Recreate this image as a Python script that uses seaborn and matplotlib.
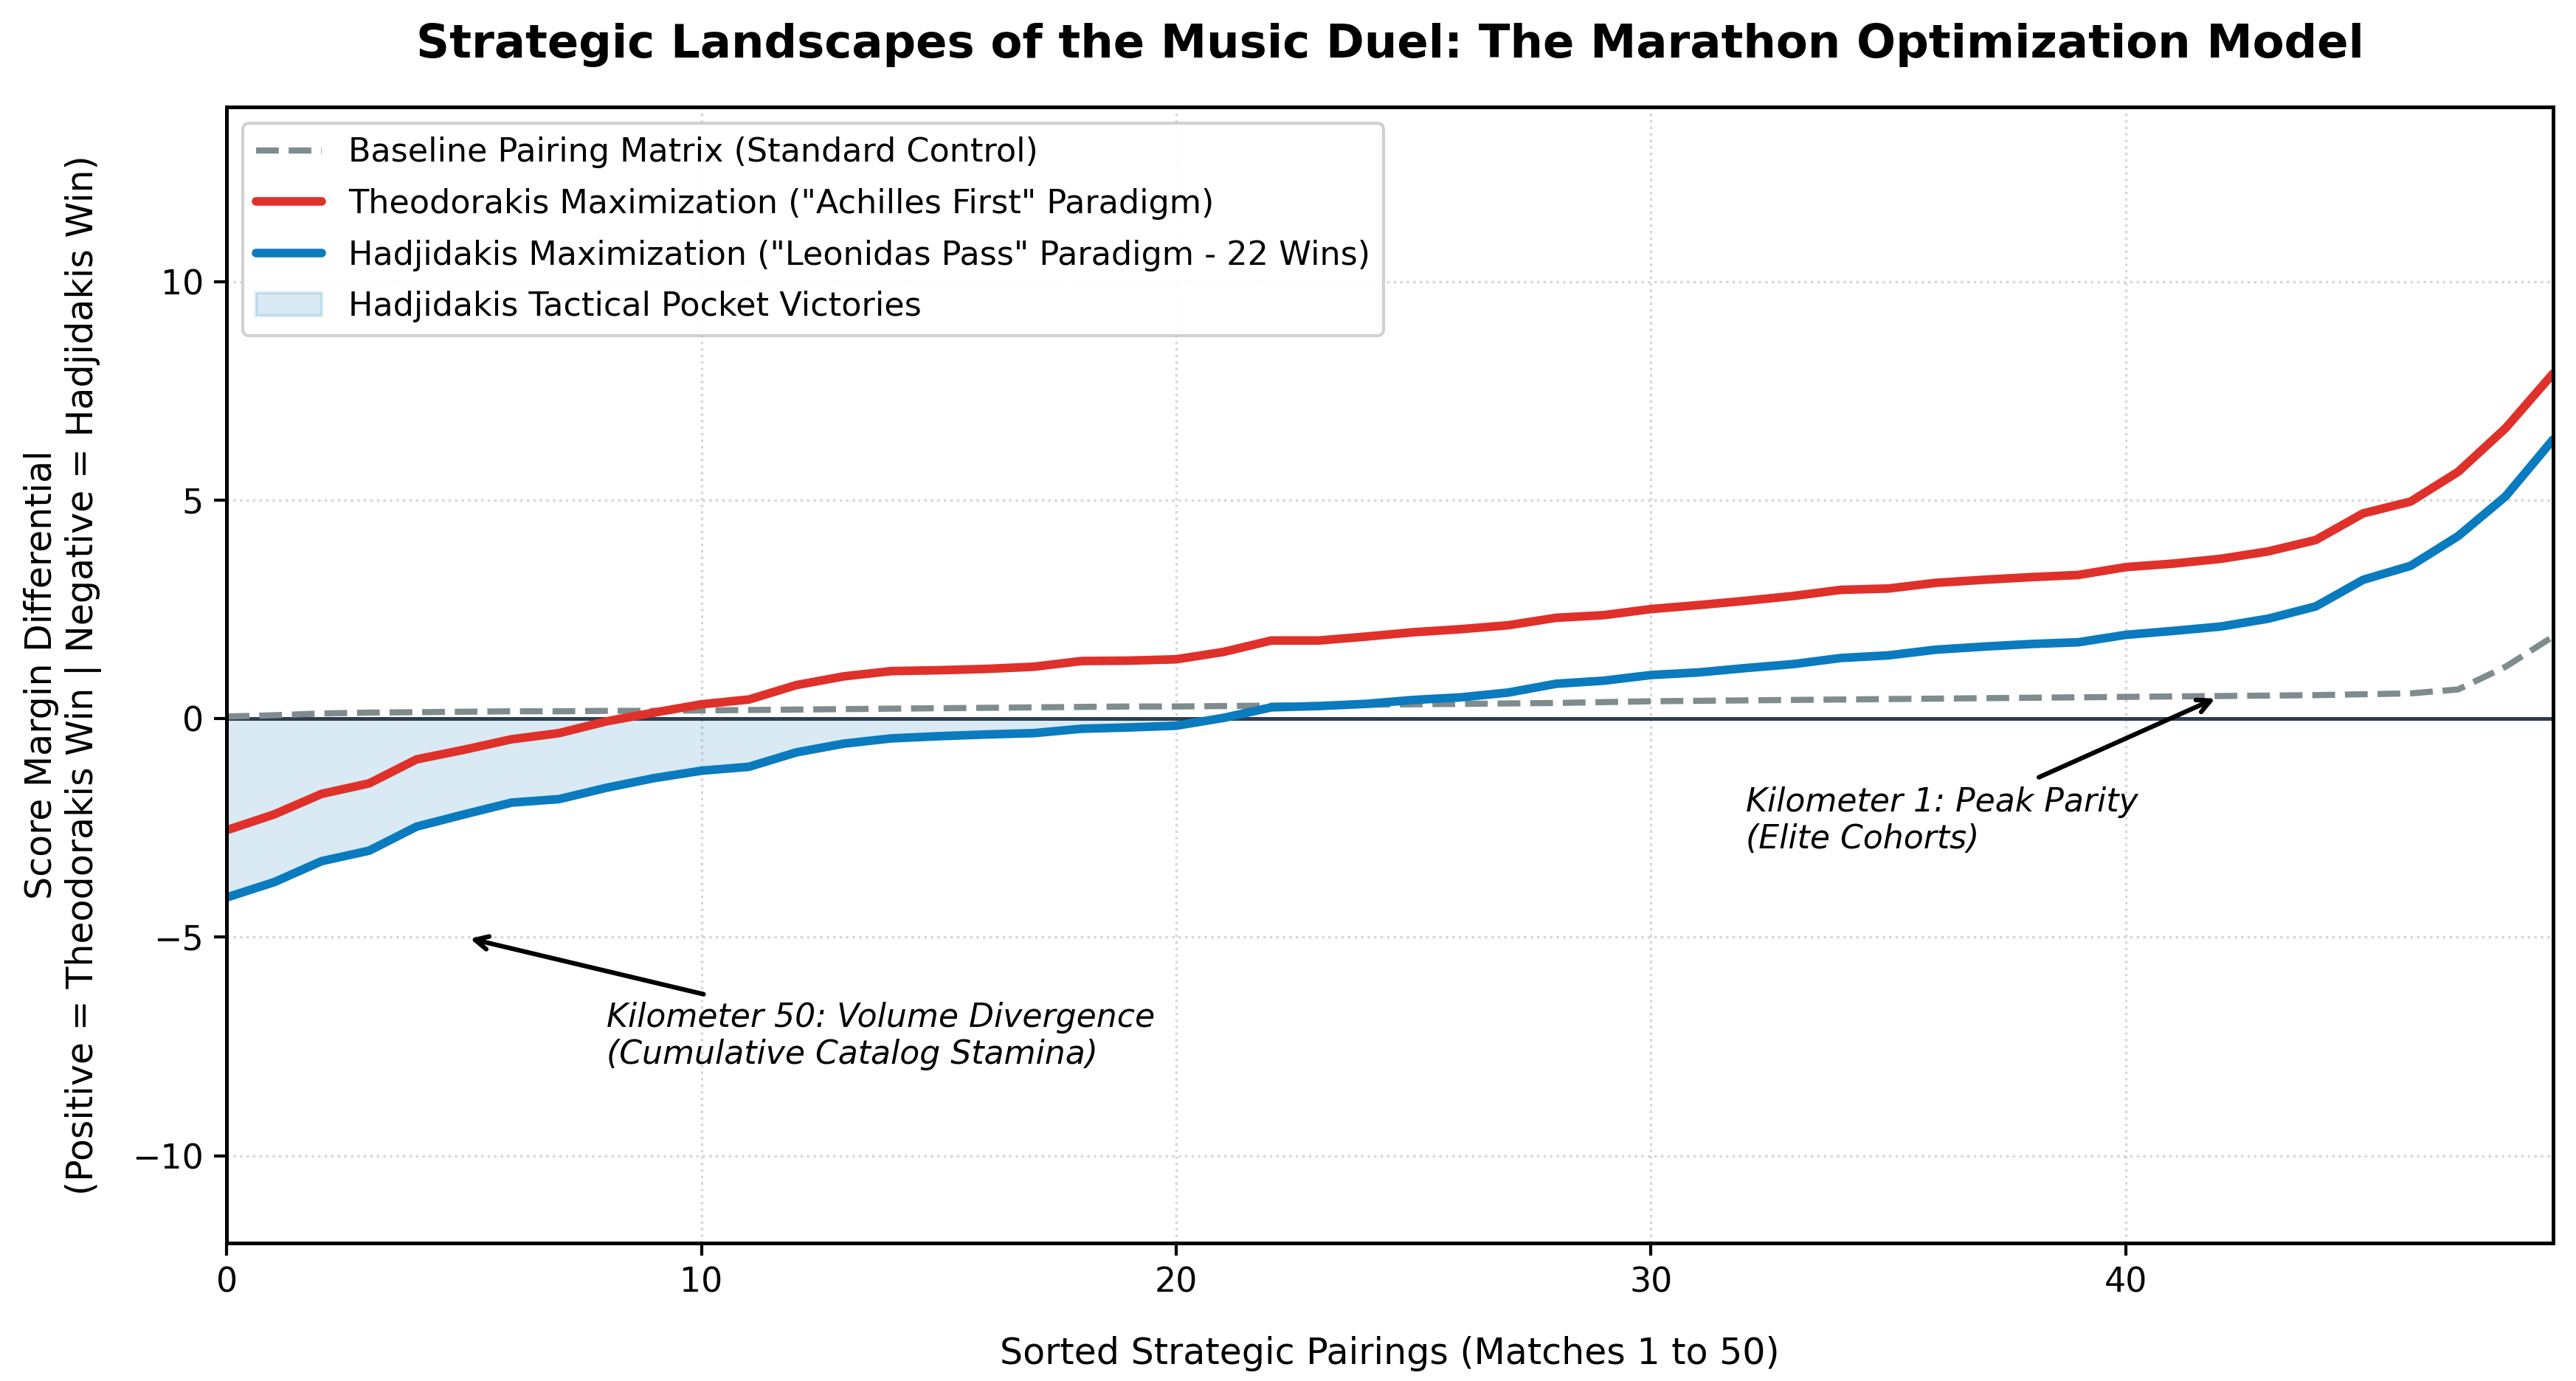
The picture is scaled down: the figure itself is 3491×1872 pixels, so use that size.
import numpy as np
import pandas as pd
import matplotlib
matplotlib.use("Agg")
import matplotlib.pyplot as plt
import seaborn as sns

# ---- data ----
pairings = list(range(50))
theodorakis = [-2.55, -2.19, -1.72, -1.48, -0.93, -0.71, -0.47, -0.33, -0.06, 0.14,
               0.33, 0.44, 0.77, 0.97, 1.09, 1.11, 1.14, 1.19, 1.32, 1.33,
               1.36, 1.53, 1.79, 1.79, 1.88, 1.98, 2.05, 2.14, 2.31, 2.37,
               2.51, 2.60, 2.70, 2.81, 2.95, 2.98, 3.11, 3.18, 3.24, 3.29,
               3.47, 3.55, 3.66, 3.83, 4.09, 4.70, 4.97, 5.65, 6.65, 7.90]
hadjidakis = [-4.09, -3.74, -3.26, -3.02, -2.47, -2.19, -1.92, -1.84, -1.58, -1.36,
              -1.19, -1.10, -0.77, -0.57, -0.45, -0.40, -0.36, -0.33, -0.23, -0.20,
              -0.16, 0.02, 0.26, 0.29, 0.34, 0.43, 0.49, 0.60, 0.80, 0.87,
              1.00, 1.06, 1.16, 1.25, 1.39, 1.45, 1.58, 1.65, 1.71, 1.75,
              1.92, 2.01, 2.11, 2.29, 2.57, 3.18, 3.50, 4.18, 5.09, 6.39]
baseline = [0.05, 0.08, 0.12, 0.14, 0.15, 0.16, 0.17, 0.17, 0.18, 0.18,
            0.19, 0.20, 0.21, 0.22, 0.23, 0.24, 0.25, 0.26, 0.27, 0.28,
            0.28, 0.29, 0.30, 0.31, 0.32, 0.33, 0.34, 0.35, 0.36, 0.38,
            0.40, 0.41, 0.42, 0.43, 0.44, 0.45, 0.46, 0.47, 0.48, 0.49,
            0.50, 0.51, 0.52, 0.53, 0.54, 0.56, 0.58, 0.67, 1.19, 1.88]

labels = {
    "base": "Baseline Pairing Matrix (Standard Control)",
    "theo": 'Theodorakis Maximization ("Achilles First" Paradigm)',
    "hadj": 'Hadjidakis Maximization ("Leonidas Pass" Paradigm - 22 Wins)',
    "fill": "Hadjidakis Tactical Pocket Victories",
}

df = pd.DataFrame({"x": pairings, "theo": theodorakis, "hadj": hadjidakis, "base": baseline})

sns.set_theme(style="ticks")
plt.rcParams["font.family"] = ["DejaVu Sans"]
plt.rcParams["text.color"] = "black"
plt.rcParams["axes.labelcolor"] = "black"
plt.rcParams["xtick.color"] = "black"
plt.rcParams["ytick.color"] = "black"

fig = plt.figure(figsize=(3491 / 300, 1872 / 300), dpi=300)
ax = fig.add_axes([0.088, 0.0999, 0.9031, 0.8226])

RED = "#E0302A"
BLUE = "#0A7BBE"
GRAY = "#7F8C8D"

sns.lineplot(data=df, x="x", y="base", ax=ax, color=GRAY, linewidth=2.0,
             linestyle="--", label=labels["base"])
sns.lineplot(data=df, x="x", y="theo", ax=ax, color=RED, linewidth=2.8,
             label=labels["theo"])
sns.lineplot(data=df, x="x", y="hadj", ax=ax, color=BLUE, linewidth=2.8,
             label=labels["hadj"])

h = np.array(hadjidakis)
ax.fill_between(df["x"], h, 0, where=h < 0, interpolate=True,
                color="#0077BB", alpha=0.15, label=labels["fill"])
ax.axhline(0, color="#2C3E50", linewidth=1.2, zorder=1)

ax.set_xlim(0, 49)
ax.set_ylim(-12, 14)
ax.set_xticks([0, 10, 20, 30, 40])
ax.set_yticks([-10, -5, 0, 5, 10])
ax.tick_params(labelsize=11, length=4, width=1, colors="black")
ax.grid(True, linestyle=":", color="#cccccc", linewidth=0.8, alpha=0.8)
for sp in ax.spines.values():
    sp.set_color("black")
    sp.set_linewidth(1.2)

ax.set_title("Strategic Landscapes of the Music Duel: The Marathon Optimization Model",
             fontsize=15, fontweight="bold", pad=16, color="black")
ax.set_xlabel("Sorted Strategic Pairings (Matches 1 to 50)", fontsize=11.75, labelpad=12)
ax.set_ylabel("Score Margin Differential\n(Positive = Theodorakis Win | Negative = Hadjidakis Win)",
              fontsize=11.75, labelpad=10)

ax.annotate("Kilometer 50: Volume Divergence\n(Cumulative Catalog Stamina)",
            xy=(5, -5), xytext=(8, -7.27), fontsize=10.6, style="italic",
            ha="left", va="center", color="black",
            arrowprops=dict(arrowstyle="->", color="black", lw=1.5))
ax.annotate("Kilometer 1: Peak Parity\n(Elite Cohorts)",
            xy=(42, baseline[42]), xytext=(32, -2.33), fontsize=10.6, style="italic",
            ha="left", va="center", color="black",
            arrowprops=dict(arrowstyle="->", color="black", lw=1.5))

leg = ax.legend(loc="upper left", fontsize=10.7, frameon=True, fancybox=True,
                framealpha=0.9, edgecolor="#cccccc", labelspacing=0.6)

fig.savefig("out.png", dpi=300)
